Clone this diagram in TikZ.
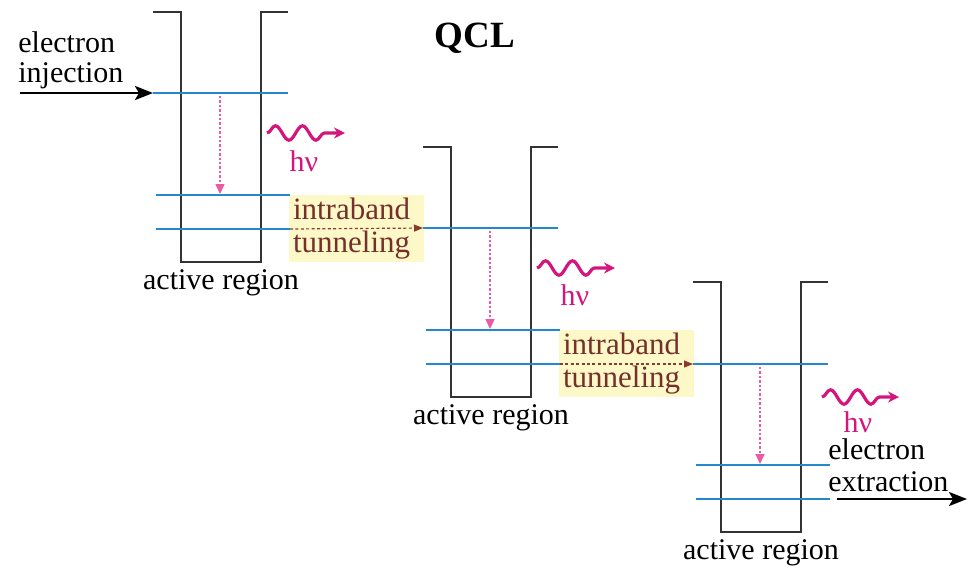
\documentclass[tikz,border=0pt]{standalone}
\usepackage{fontspec}
\setmainfont{Liberation Serif}
\usetikzlibrary{arrows.meta, decorations.pathmorphing}
\definecolor{well-gray}{HTML}{333333}
\definecolor{level-blue}{HTML}{2489CC}
\definecolor{photon-pink}{HTML}{D4157E}
\definecolor{drop-pink}{HTML}{EC5AA6}
\definecolor{tunnel-bg}{HTML}{FDF8C8}
\definecolor{tunnel-text}{HTML}{76302C}
\definecolor{tunnel-arrow}{HTML}{8B3A2E}

\begin{document}
\begin{tikzpicture}[x=0.5pt, y=-0.5pt,
    wall/.style={draw=well-gray, line width=1.4pt},
    level/.style={draw=level-blue, line width=1.3pt},
    drop/.style={draw=drop-pink, line width=0.7pt, dash pattern=on 1.2pt off 1pt,
      -{Triangle[length=5pt, width=4.5pt]}},
    photon/.style={draw=photon-pink, line width=1.6pt,
      decorate, decoration={snake, amplitude=3.6pt, segment length=13.5pt, post length=9pt},
      -{Stealth[length=5.5pt, width=5.5pt]}},
    feed/.style={draw=black, line width=1.3pt, -{Stealth[length=9pt, width=7pt, inset=2pt]}},
    tunnel/.style={draw=tunnel-arrow, line width=0.6pt, dash pattern=on 1.5pt off 1.2pt,
      -{Triangle[length=4.5pt, width=3.5pt]}},
    tunnelbox/.style={fill=tunnel-bg, text=tunnel-text, align=left, text width=63.5pt,
      inner xsep=2pt, inner ysep=0pt, minimum height=33.5pt,
      font=\fontsize{15.5}{16.5}\selectfont},
    labeltext/.style={font=\fontsize{15}{15}\selectfont, inner sep=0pt},
    hnu/.style={text=photon-pink, font=\fontsize{15}{15}\selectfont, inner sep=0pt, anchor=base}]
    % Picture in pixels of the 977x570 reference, y grows downward.
    % Wells: left top bar at x=153..181, walls x=181 and x=261, bottom y=262
    %   each next well shifted by (+270,+135)
    %   levels at y=93, 195, 229 (well 1)
    \useasboundingbox (0,0) rectangle (977,570);

    \node[font=\fontsize{18.5}{20}\selectfont\bfseries, anchor=base] (title) at (475,47) {QCL};

    % tunneling boxes (drawn first, under the levels)
    \node[tunnelbox] (tun1) at (356.5,228.5) {intraband\\tunneling};
    \node[tunnelbox] (tun2) at (626.5,363.5) {intraband\\tunneling};

    % well 1
    \draw[wall] (153,12) -| (181,262) -| (261,12) -- (288,12);
    \coordinate (w1-up-l) at (153,93);  \coordinate (w1-up-r) at (288,93);
    \coordinate (w1-mid-l) at (156,195); \coordinate (w1-mid-r) at (290,195);
    \coordinate (w1-low-l) at (156,229); \coordinate (w1-low-r) at (290,229);
    \draw[level] (w1-up-l) -- (w1-up-r);
    \draw[level] (w1-mid-l) -- (w1-mid-r);
    \draw[level] (w1-low-l) -- (w1-low-r);
    \coordinate (w1-drop-s) at (220,96); \coordinate (w1-drop-e) at (220,194);
    \draw[drop] (w1-drop-s) -- (w1-drop-e);
    \node[labeltext, anchor=base] (w1-name) at (221,289) {active region};

    % well 2
    \draw[wall] (423,147) -| (451,397) -| (531,147) -- (558,147);
    \coordinate (w2-up-l) at (423,228);  \coordinate (w2-up-r) at (558,228);
    \coordinate (w2-mid-l) at (426,330); \coordinate (w2-mid-r) at (560,330);
    \coordinate (w2-low-l) at (426,364); \coordinate (w2-low-r) at (560,364);
    \draw[level] (w2-up-l) -- (w2-up-r);
    \draw[level] (w2-mid-l) -- (w2-mid-r);
    \draw[level] (w2-low-l) -- (w2-low-r);
    \coordinate (w2-drop-s) at (490,231); \coordinate (w2-drop-e) at (490,329);
    \draw[drop] (w2-drop-s) -- (w2-drop-e);
    \node[labeltext, anchor=base] (w2-name) at (491,424) {active region};

    % well 3
    \draw[wall] (693,282) -| (721,532) -| (801,282) -- (828,282);
    \coordinate (w3-up-l) at (693,364);  \coordinate (w3-up-r) at (828,364);
    \coordinate (w3-mid-l) at (696,465); \coordinate (w3-mid-r) at (830,465);
    \coordinate (w3-low-l) at (696,499); \coordinate (w3-low-r) at (830,499);
    \draw[level] (w3-up-l) -- (w3-up-r);
    \draw[level] (w3-mid-l) -- (w3-mid-r);
    \draw[level] (w3-low-l) -- (w3-low-r);
    \coordinate (w3-drop-s) at (760,367); \coordinate (w3-drop-e) at (760,464);
    \draw[drop] (w3-drop-s) -- (w3-drop-e);
    \node[labeltext, anchor=base] (w3-name) at (761,559) {active region};

    % tunneling between wells
    \draw[tunnel] (w1-low-r) -- (w2-up-l);
    \draw[tunnel] (w2-low-r) -- (w3-up-l);

    % emitted photons
    \coordinate (ph1-s) at (267,133); \coordinate (ph1-e) at (345,133);
    \draw[photon] (ph1-s) -- (ph1-e);
    \node[hnu] (hnu1) at (304,171) {hν};
    \coordinate (ph2-s) at (537,268); \coordinate (ph2-e) at (615,268);
    \draw[photon] (ph2-s) -- (ph2-e);
    \node[hnu] (hnu2) at (575,305) {hν};
    \coordinate (ph3-s) at (822,397); \coordinate (ph3-e) at (899,397);
    \draw[photon] (ph3-s) -- (ph3-e);
    \node[hnu] (hnu3) at (858,432) {hν};

    % electron in and out
    \node[labeltext, align=left, anchor=north west] (inj-text) at (18,31.5) {electron\\injection};
    \coordinate (inj-s) at (20,93);
    \draw[feed] (inj-s) -- (w1-up-l);
    \node[labeltext, align=left, anchor=north west, font=\fontsize{15}{16}\selectfont]
      (ext-text) at (828,438.5) {electron\\extraction};
    \coordinate (ext-s) at (837,499); \coordinate (ext-e) at (967,499);
    \draw[feed] (ext-s) -- (ext-e);
  \end{tikzpicture}
\end{document}
